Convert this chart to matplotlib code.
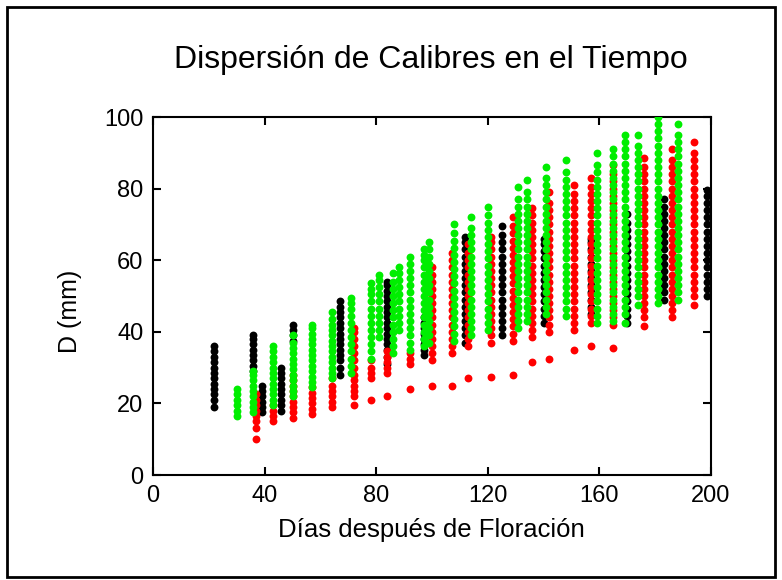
import matplotlib
matplotlib.use('Agg')
import matplotlib.pyplot as plt
from matplotlib.patches import Rectangle

plt.rcParams['font.family'] = ['Liberation Sans', 'DejaVu Sans']

# dias despues de floracion y calibres (mm) de cada columna
black_days = [22, 36, 39, 46, 50, 67, 84, 97, 112, 125, 140, 157, 170, 183, 198.5]
black_vals = [
    [19, 21, 22.5, 24, 25.5, 27, 28.5, 30, 31.5, 33, 34.5, 36],
    [29, 30.5, 32, 33.5, 35, 36.5, 38, 39],
    [17.5, 19, 20.5, 22, 23.5, 25],
    [18, 19.5, 21, 22.5, 24, 25.5, 27, 28.5, 30],
    [37.5, 39, 40.5, 42],
    [28, 30, 32, 33.5, 35, 36.5, 38, 39.5, 41, 42.5, 44, 45.5, 47, 48.5],
    [31, 33, 35, 36.5, 38, 39.5, 41, 42.5, 44, 45.5, 47, 48.5, 50, 51.5, 53, 54],
    [33.5, 35, 36.5, 38, 39.5, 41, 42.5, 44],
    [37, 39, 41, 43, 45, 47, 49, 51, 53, 55, 57, 59, 61, 63, 65, 66.5],
    [39, 41, 43, 45, 47, 49, 51, 53, 55, 57, 59, 61, 63, 65, 67, 69.5],
    [42.5, 44.5, 46.5, 48.5, 50.5, 52.5, 54.5, 56.5, 58.5, 60.5, 62.5, 64.5, 66],
    [45, 47, 49, 51, 53, 55, 57, 59, 61, 63, 65, 66],
    [42.5, 44.5, 46.5, 48.5, 50.5, 52.5, 54.5, 56.5, 58.5, 60.5, 62.5, 64.5, 66.5, 68.5, 70.5, 73],
    [49, 51, 53, 55, 57, 59, 61, 63, 65, 67, 69, 71, 73, 75, 77],
    [50, 52, 54, 56, 58, 60, 62, 64, 66, 68, 70, 72, 74, 76, 78, 79.5],
]

red_days = [37, 43, 50, 57, 64, 72, 78, 84, 92, 100, 107, 113, 121, 129, 136,
            142, 151, 157, 165, 176, 186, 194]
red_vals = [
    [10, 13, 15, 16.5, 18, 19.5, 21, 22.5],
    [15, 16.5, 18, 19.5],
    [16, 17.5, 19, 20.5, 22, 23.5, 25, 26.5, 28],
    [17, 18.5, 20, 21.5, 23, 24.5],
    [19, 20.5, 22, 23.5, 25, 27],
    [19.5, 22, 23.5, 25, 26.5, 28, 30, 32, 34, 36, 38, 40, 41],
    [21, 27, 28.5, 30, 32],
    [22, 28.5, 30, 31.5, 33, 34.5],
    [24, 31, 32.5, 34],
    [25, 32, 34, 36, 38, 40, 42, 44, 46, 48, 50, 52, 54, 56, 58],
    [25, 34, 36, 38, 40, 42, 44, 46, 48, 50, 52, 54, 56, 58, 60, 62],
    [27, 36, 38, 40, 42, 44, 46, 48, 50, 52, 54, 56, 58, 60, 62, 64.5],
    [27.5, 37, 39, 41, 43, 45, 47, 49, 51, 53, 55, 57, 59, 61, 63, 65, 66.5],
    [28, 37.5, 39.5, 41.5, 43.5, 45.5, 47.5, 49.5, 51.5, 53.5, 55.5, 57.5, 59.5,
     61.5, 63.5, 65.5, 67.5, 69.5, 72],
    [31.5, 38.5, 40.5, 42.5, 44.5, 46.5, 48.5, 50.5, 52.5, 54.5, 56.5, 58.5, 60.5,
     62.5, 64.5, 66.5, 68.5, 70.5, 72.5, 74.5],
    [32.5, 40, 42, 44, 46, 48, 50, 52, 54, 56, 58, 60, 62, 64, 66, 68, 70, 72, 74, 76, 79],
    [35, 40.5, 42.5, 44.5, 46.5, 48.5, 50.5, 52.5, 54.5, 56.5, 58.5, 60.5, 62.5,
     64.5, 66.5, 68.5, 70.5, 72.5, 74.5, 76.5, 78.5, 81],
    [36, 42.5, 44.5, 46.5, 48.5, 50.5, 52.5, 54.5, 56.5, 58.5, 60.5, 62.5, 64.5,
     66.5, 68.5, 70.5, 72.5, 74.5, 76.5, 78.5, 80.5, 83],
    [35.5, 42, 44, 46, 48, 50, 52, 54, 56, 58, 60, 62, 64, 66, 68, 70, 72, 74, 76,
     78, 80, 82, 84, 86.5],
    [41.5, 44, 46, 48, 50, 52, 54, 56, 58, 60, 62, 64, 66, 68, 70, 72, 74, 76, 78,
     80, 82, 84, 86, 88.5],
    [44, 46, 48, 50, 52, 54, 56, 58, 60, 62, 64, 66, 68, 70, 72, 74, 76, 78, 80, 82,
     84, 86, 88, 91],
    [47.5, 50, 52, 54, 56, 58, 60, 62, 64, 66, 68, 70, 72, 74, 76, 78, 80, 82, 84,
     86, 88, 90, 93],
]

green_days = [30, 36, 43, 50, 57, 64, 71, 78, 81, 86, 88, 92, 97, 99, 108, 114, 120,
              131, 134, 141, 148, 159, 165, 169, 174, 181, 188]
green_vals = [
    [16.5, 18, 19.5, 21, 22.5, 24],
    [17.5, 19, 20.5, 22, 23.5, 25, 26.5, 28, 29],
    [19.5, 21, 22.5, 24, 25.5, 27, 28.5, 30, 31.5, 33, 34.5, 36],
    [22, 23.5, 25, 26.5, 28, 29.5, 31, 32.5, 34, 35.5, 37, 39],
    [24.5, 26, 27.5, 29, 30.5, 32, 33.5, 35, 36.5, 38, 39.5, 41, 42],
    [27, 28.5, 30, 31.5, 33, 34.5, 36, 37.5, 39, 40.5, 42, 43.5, 45.5],
    [28.5, 30.5, 32.5, 34.5, 36.5, 38.5, 40.5, 42.5, 44.5, 46.5, 48, 49.5],
    [32.5, 34.5, 36.5, 38.5, 40.5, 42.5, 44.5, 46.5, 48.5, 50.5, 52, 53.5],
    [38.5, 40.5, 42.5, 44.5, 46.5, 48.5, 50.5, 52.5, 54.5, 56],
    [34, 36, 38, 40, 42, 44, 46, 48, 50, 52, 54, 56.5],
    [40.5, 42.5, 44.5, 46.5, 48.5, 50.5, 52.5, 54.5, 56.5, 58],
    [35, 37, 39, 41, 43, 45, 47, 49, 51, 53, 55, 57, 59, 61],
    [36, 38, 40, 42, 44, 46, 48, 50, 52, 54, 56, 58, 60, 61.5, 63],
    [37, 39, 41, 43, 45, 47, 49, 51, 53, 55, 57, 59, 61, 63, 65],
    [37.5, 39.5, 41.5, 43.5, 45.5, 47.5, 49.5, 51.5, 53.5, 55.5, 57.5, 59.5, 61.5,
     63.5, 65.5, 67.5, 70],
    [39, 41, 43, 45, 47, 49, 51, 53, 55, 57, 59, 61, 63, 65, 67, 69, 72],
    [40.5, 42.5, 44.5, 46.5, 48.5, 50.5, 52.5, 54.5, 56.5, 58.5, 60.5, 62.5, 64.5,
     66.5, 68.5, 70.5, 72.5, 75],
    [41, 43, 45, 47, 49, 51, 53, 55, 57, 59, 61, 63, 65, 67, 69, 71, 73, 75, 77, 80.5],
    [43, 45, 47, 49, 51, 53, 55, 57, 59, 61, 63, 65, 67, 69, 71, 73, 75, 77, 79, 82.5],
    [45, 47, 49, 51, 53, 55, 57, 59, 61, 63, 65, 67, 69, 71, 73, 75, 77, 79, 81, 83, 86],
    [44.5, 46.5, 48.5, 50.5, 52.5, 54.5, 56.5, 58.5, 60.5, 62.5, 64.5, 66.5, 68.5,
     70.5, 72.5, 74.5, 76.5, 78.5, 80.5, 82.5, 84.5, 88],
    [42.5, 44.5, 46.5, 48.5, 50.5, 52.5, 54.5, 56.5, 58.5, 60.5, 62.5, 64.5, 66.5,
     68.5, 70.5, 72.5, 74.5, 76.5, 78.5, 80.5, 82.5, 84.5, 86.5, 90],
    [43, 45, 47, 49, 51, 53, 55, 57, 59, 61, 63, 65, 67, 69, 71, 73, 75, 77, 79, 81,
     83, 85, 87, 89, 91],
    [42.5, 45, 47, 49, 51, 53, 55, 57, 59, 61, 63, 65, 67, 69, 71, 73, 75, 77, 79, 81,
     83, 85, 87, 89, 91, 93, 95],
    [47.5, 50, 52, 54, 56, 58, 60, 62, 64, 66, 68, 70, 72, 74, 76, 78, 80, 82, 84, 86,
     88, 90, 92, 95],
    [48, 50, 52, 54, 56, 58, 60, 62, 64, 66, 68, 70, 72, 74, 76, 78, 80, 82, 84, 86,
     88, 90, 92, 94, 96, 98, 100],
    [49, 51, 53, 55, 57, 59, 61, 63, 65, 67, 69, 71, 73, 75, 77, 79, 81, 83, 85, 87,
     89, 91, 93, 95, 98],
]

x_ticks = [0, 40, 80, 120, 160, 200]
y_ticks = [0, 20, 40, 60, 80, 100]


def flatten(days, vals):
    xs, ys = [], []
    for d, col in zip(days, vals):
        xs += [d] * len(col)
        ys += col
    return xs, ys


fig = plt.figure(figsize=(7.82, 5.8), dpi=100)
ax = fig.add_axes([153 / 782, 1 - 475 / 580, 558 / 782, 358 / 580])

for days, vals, color in [(black_days, black_vals, 'black'),
                          (red_days, red_vals, '#ff0000'),
                          (green_days, green_vals, '#00ee00')]:
    xs, ys = flatten(days, vals)
    ax.scatter(xs, ys, s=32, c=color, linewidths=0, zorder=3)

ax.set_xlim(0, 200)
ax.set_ylim(0, 100)
ax.set_xticks(x_ticks)
ax.set_yticks(y_ticks)
for sp in ax.spines.values():
    sp.set_linewidth(1.5)
ax.tick_params(direction='in', length=6, width=1.5, top=True, right=True,
               labelsize=17, pad=7)

fig.text(431 / 782, 1 - 60 / 580, 'Dispersión de Calibres en el Tiempo',
         fontsize=23, ha='center', va='center')
fig.text(431 / 782, 1 - 530 / 580, 'Días después de Floración',
         fontsize=18.5, ha='center', va='center')
fig.text(70 / 782, 1 - 311 / 580, 'D (mm)', fontsize=18, rotation=90,
         ha='center', va='center')

# marco exterior
fig.patches.append(Rectangle((7 / 782, 3 / 580), 768 / 782, 570 / 580,
                             transform=fig.transFigure, fill=False,
                             edgecolor='black', linewidth=2))

fig.savefig('out.png', dpi=100, facecolor='white')
